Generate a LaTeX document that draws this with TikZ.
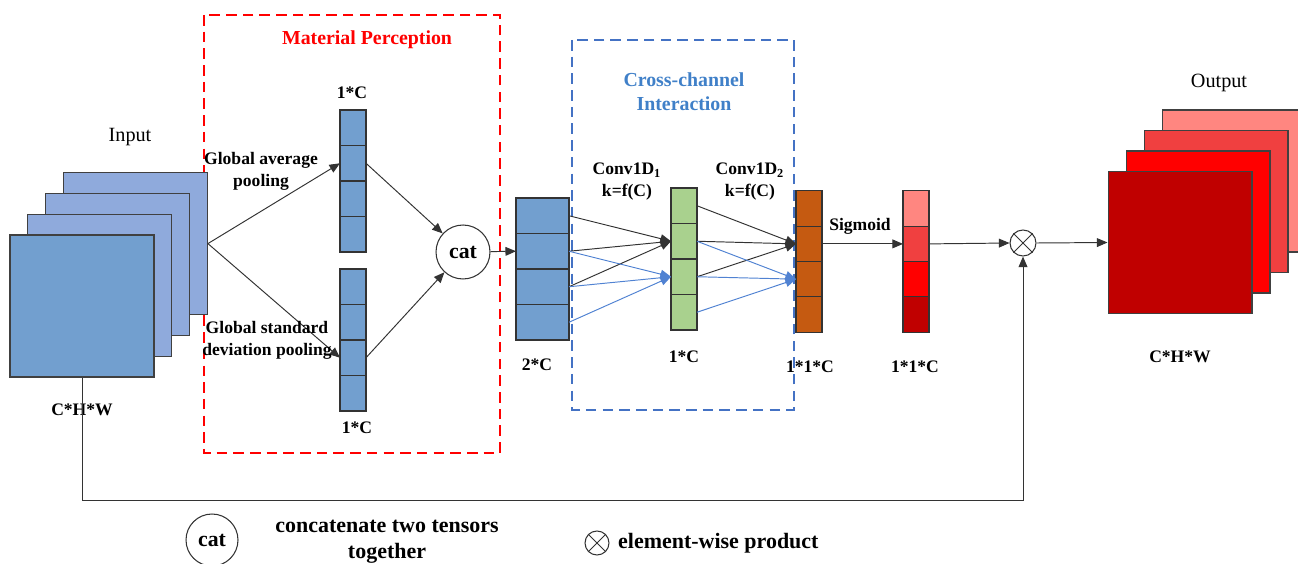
\documentclass[tikz,border=0pt]{standalone}
\usepackage{fontspec}
\setmainfont{Liberation Serif}
\usetikzlibrary{arrows.meta}
\definecolor{cblue}{RGB}{114, 159, 207}
\definecolor{cblueback}{RGB}{143, 170, 220}
\definecolor{cgreen}{RGB}{169, 209, 142}
\definecolor{corange}{RGB}{197, 90, 17}
\definecolor{rA}{RGB}{255, 134, 128}
\definecolor{rB}{RGB}{240, 64, 64}
\definecolor{rC}{RGB}{255, 0, 0}
\definecolor{rD}{RGB}{192, 0, 0}
\definecolor{mpred}{RGB}{255, 0, 0}
\definecolor{ccblue}{RGB}{68, 114, 196}
\definecolor{linkblue}{RGB}{80, 130, 210}
\definecolor{cctext}{RGB}{64, 128, 200}

\begin{document}
\begin{tikzpicture}[x=0.02cm, y=-0.02cm,
        font=\bfseries\fontsize{10}{12.5}\selectfont,
        cell/.style={draw=black!80, line width=0.6pt, minimum width=0.52cm,
                     minimum height=0.71cm, inner sep=0, outer sep=0},
        fmap/.style={draw=black!75, line width=0.6pt, minimum width=2.88cm,
                     minimum height=2.84cm, inner sep=0},
        link/.style={-{Triangle[length=6pt, width=5pt]}, line width=0.55pt, black!80},
        bluelink/.style={link, linkblue},
        mpbox/.style={draw=mpred, line width=1.1pt, dash pattern=on 6pt off 3.5pt},
        ccbox/.style={draw=ccblue, line width=1.1pt, dash pattern=on 6pt off 3.5pt},
        title/.style={font=\bfseries\fontsize{11.3}{13.5}\selectfont, align=center},
        plain/.style={font=\fontsize{11.5}{13}\selectfont},
        keytext/.style={font=\bfseries\fontsize{12.5}{15}\selectfont, align=center}
    ]
    \useasboundingbox (0,0) rectangle (1298,564);

    % module frames
    \draw[mpbox] (204,15) rectangle (500,453);
    \draw[ccbox] (572,40) rectangle (794,410);
    \node[title, text=mpred] (mptitle) at (367,40) {Material Perception};
    \node[title, text=cctext] (cctitle) at (684,92) {Cross-channel\\Interaction};

    % input and output feature maps
    \foreach \i/\c in {3/cblueback, 2/cblueback, 1/cblueback, 0/cblue}
        \node[fmap, fill=\c] (in\i) at ({82+17.8*\i},{306-20.8*\i}) {};
    \foreach \i/\c in {3/rA, 2/rB, 1/rC, 0/rD}
        \node[fmap, fill=\c] (out\i) at ({1180+18*\i},{242.5-20.5*\i}) {};
    \node[plain] (inlabel) at (130,137) {Input};
    \node[plain] (outlabel) at (1219,83) {Output};
    \node (indim) at (82,410) {C*H*W};
    \node (outdim) at (1180,357) {C*H*W};

    % channel vectors
    \foreach \i in {1,...,4} {
        \node[cell, fill=cblue] (avg\i) at (353,{110+35.5*\i-17.75}) {};
        \node[cell, fill=cblue] (std\i) at (353,{269+35.5*\i-17.75}) {};
        \node[cell, fill=cblue, minimum width=1.06cm] (cc\i) at (542.5,{198+35.5*\i-17.75}) {};
        \node[cell, fill=cgreen] (g\i) at (684,{188+35.5*\i-17.75}) {};
        \node[cell, fill=corange] (o\i) at (809,{191+35.25*\i-17.6}) {};
    }
    \foreach \i/\c in {1/rA, 2/rB, 3/rC, 4/rD}
        \node[cell, fill=\c] (s\i) at (916,{191+35.25*\i-17.6}) {};

    \node (avgdim) at (352,93) {1*C};
    \node (stddim) at (357,428) {1*C};
    \node (ccdim) at (537,365) {2*C};
    \node (gdim) at (684,357) {1*C};
    \node (odim) at (810,367) {1*1*C};
    \node (sdim) at (915,367) {1*1*C};

    \node[circle, draw=black!80, line width=0.6pt, minimum size=1.08cm, inner sep=0,
          font=\bfseries\fontsize{12.4}{14}\selectfont] (cat) at (463,252) {cat};
    \node[circle, draw=black!80, line width=0.6pt, minimum size=0.52cm, inner sep=0] (prod) at (1023,243) {};
    \draw[black!80, line width=0.5pt] (prod.north west) -- (prod.south east)
                                     (prod.north east) -- (prod.south west);

    % pooling branches
    \draw[link] (in3.east) -- (avg2.west);
    \draw[link] (in3.east) -- (std3.west);
    \node[align=center] (gap) at (261,171) {Global average\\pooling};
    \node[align=center] (gsp) at (267,340) {Global standard\\deviation pooling};
    \draw[link] (avg2.east) -- (cat);
    \draw[link] (std3.east) -- (cat);
    \draw[link] (cat) -- (cc2.west);

    % two 1D convolutions
    \foreach \i in {1,2,3} {
        \draw[link] (cc\i.east) -- (g2.west);
        \draw[link] (g\i.east) -- (o2.west);
    }
    \foreach \i in {2,3,4} {
        \draw[bluelink] (cc\i.east) -- (g3.west);
        \draw[bluelink] (g\i.east) -- (o3.west);
    }
    \node[align=center] (conva) at (627,182) {Conv1D\textsubscript{1}\\k=f(C)};
    \node[align=center] (convb) at (750,182) {Conv1D\textsubscript{2}\\k=f(C)};

    \draw[link] (o2.east) -- (s2.west);
    \node (sig) at (860,226) {Sigmoid};
    \draw[link] (s2.east) -- (prod.west);
    \draw[link] (prod.east) -- (out0.west);

    % skip connection
    \coordinate (skip) at (82,500);
    \draw[link] (in0.south) -- (skip) -| (prod.south);

    % legend
    \node[circle, draw=black!80, line width=0.6pt, minimum size=1.04cm, inner sep=0,
          font=\bfseries\fontsize{12.4}{14}\selectfont] (catkey) at (212,540) {cat};
    \node[keytext] (catnote) at (387,542) {concatenate two tensors\\together};
    \node[circle, draw=black!80, line width=0.6pt, minimum size=0.48cm, inner sep=0] (prodkey) at (597,543) {};
    \draw[black!80, line width=0.5pt] (prodkey.north west) -- (prodkey.south east)
                                     (prodkey.north east) -- (prodkey.south west);
    \node[keytext, anchor=west] (prodnote) at (612,543) {element-wise product};
\end{tikzpicture}
\end{document}
